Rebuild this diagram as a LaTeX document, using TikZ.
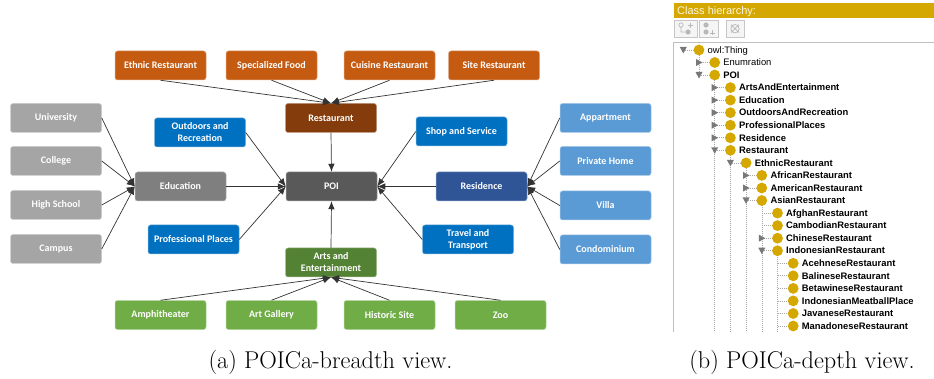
\documentclass[tikz,border=0pt]{standalone}
\usepackage{fontspec}
\newfontfamily\boxfont{Carlito}
\newfontfamily\arialfont{Liberation Sans}
\usetikzlibrary{arrows.meta}
\definecolor{orng}{RGB}{197,90,17}
\definecolor{brwn}{RGB}{132,60,12}
\definecolor{lgray}{RGB}{165,165,165}
\definecolor{mgray}{RGB}{127,127,127}
\definecolor{dgray}{RGB}{89,89,89}
\definecolor{mblue}{RGB}{0,112,192}
\definecolor{dblue}{RGB}{47,85,151}
\definecolor{lblue}{RGB}{91,155,213}
\definecolor{dgreen}{RGB}{84,130,53}
\definecolor{lgreen}{RGB}{112,173,71}
\definecolor{gold}{RGB}{212,168,0}
\definecolor{hdrtext}{RGB}{252,246,225}
\definecolor{trigray}{RGB}{120,120,120}
\tikzset{
  box/.style={rounded corners=2.5pt, minimum width=91pt, minimum height=29pt,
    inner sep=1pt, text=white, fill=#1, draw=#1!55!white, line width=0.5pt,
    font=\boxfont\bfseries\fontsize{10}{12}\selectfont, align=center},
  arr/.style={-{Latex[length=8pt,width=6.5pt]}, draw=black!80, line width=0.7pt},
  treeline/.style={draw=black!35, line width=0.6pt, dash pattern=on 1pt off 1pt},
  treetext/.style={anchor=base west, inner sep=0pt,
    font=\arialfont\fontsize{9.4}{11}\selectfont, text=black},
  btn/.style={draw=black!22, fill=black!4, line width=0.6pt},
  icon/.style={draw=black!28, line width=0.7pt},
  caption/.style={anchor=base, inner sep=0pt, font=\fontsize{24.3}{29}\selectfont},
}
\newcommand\trowbase[4]{%
  \pgfmathsetmacro\cx{699+15.7*#1}%
  \pgfmathsetmacro\px{699+15.7*(#1-1)}%
  \draw[treeline] (\px,#2) -- (\cx-5,#2);
  \fill[gold] (\cx,#2) circle[radius=5.4];
  \node[treetext] (#3) at (\cx+8.5,#2+3.3) {#4};
}
\newcommand\trowR[4]{\trowbase{#1}{#2}{#3}{#4}%
  \fill[trigray] (\px-3,#2-3.5) -- (\px-3,#2+3.5) -- (\px+3.5,#2) -- cycle;}
\newcommand\trowD[4]{\trowbase{#1}{#2}{#3}{#4}%
  \fill[trigray] (\px-3.5,#2-3) -- (\px+3.5,#2-3) -- (\px,#2+3.5) -- cycle;}
\newcommand\trowN[4]{\trowbase{#1}{#2}{#3}{#4}}
\begin{document}
\begin{tikzpicture}[x=1pt,y=-1pt]
\useasboundingbox (0,0) rectangle (934,379);
\fill[white] (0,0) rectangle (934,379);

% ---------- left diagram ----------
\node[box=orng] (ethnic) at (160.5,65.5) {Ethnic Restaurant};
\node[box=orng] (spec) at (271.5,65.5) {Specialized Food};
\node[box=orng] (cuisine) at (389.5,65.5) {Cuisine Restaurant};
\node[box=orng] (site) at (494,65.5) {Site Restaurant};
\node[box=brwn] (rest) at (331,118) {Restaurant};

\node[box=lgray] (univ) at (56,118) {University};
\node[box=lgray] (college) at (56,161) {College};
\node[box=lgray] (high) at (56,205) {High School};
\node[box=lgray] (campus) at (56,249) {Campus};

\node[box=mblue] (outdoor) at (200,132.5) {Outdoors and\\Recreation};
\node[box=mgray] (edu) at (180.5,186.5) {Education};
\node[box=dgray] (poi) at (331.5,186.5) {POI};
\node[box=mblue] (prof) at (193.5,239.5) {Professional Places};

\node[box=mblue] (shop) at (461.5,131.5) {Shop and Service};
\node[box=dblue] (resid) at (481.5,186.5) {Residence};
\node[box=mblue] (travel) at (468,239.5) {Travel and\\Transport};

\node[box=lblue] (appart) at (605.5,118) {Appartment};
\node[box=lblue] (private) at (605.5,161) {Private Home};
\node[box=lblue] (villa) at (605.5,205.5) {Villa};
\node[box=lblue] (condo) at (605.5,249.5) {Condominium};

\node[box=dgreen] (arts) at (331,262.5) {Arts and\\Entertainment};
\node[box=lgreen] (amph) at (160.5,315) {Amphitheater};
\node[box=lgreen] (gallery) at (271.5,315) {Art Gallery};
\node[box=lgreen] (historic) at (389.5,315) {Historic Site};
\node[box=lgreen] (zoo) at (500.5,315) {Zoo};

\foreach \c in {ethnic,spec,cuisine,site} \draw[arr] (\c.south) -- (rest.north);
\foreach \c in {univ,college,high,campus} \draw[arr] (\c.east) -- (edu.west);
\foreach \c in {appart,private,villa,condo} \draw[arr] (\c.west) -- (resid.east);
\foreach \c in {amph,gallery,historic,zoo} \draw[arr] (\c.north) -- (arts.south);
\foreach \c in {outdoor,edu,prof} \draw[arr] (\c.east) -- (poi.west);
\foreach \c in {shop,resid,travel} \draw[arr] (\c.west) -- (poi.east);
\draw[arr] (rest.south) -- (poi.north);
\draw[arr] (arts.north) -- (poi.south);

% ---------- right panel ----------
\fill[gold] (674,3) rectangle (934,18);
\node[anchor=base west, inner sep=0pt, text=hdrtext,
  font=\arialfont\fontsize{11}{13}\selectfont] (hdr) at (677,14.5) {Class hierarchy:};
\draw[btn] (674.5,20.5) rectangle (697,37);
\draw[btn] (699,20.5) rectangle (718,37);
\draw[btn] (726,20.5) rectangle (744,37);
% icons
\draw[icon] (681,25) circle[radius=2.2] (681,27.2) -- (681,32) -- (685,32);
\fill[black!28] (688,32) circle[radius=2.6];
\draw[icon] (690,23) -- (690,28) (687.5,25.5) -- (692.5,25.5);
\fill[black!28] (706,25) circle[radius=2.6] (706,32) circle[radius=2.6];
\draw[icon] (710,33) -- (715,33) (712.5,30.5) -- (712.5,35.5);
\draw[icon] (735,28.7) circle[radius=4.2] (731,24.7) -- (739,32.7) (739,24.7) -- (731,32.7);
\draw[black!25, line width=0.6pt] (673,42) -- (934,42);
\draw[black!25, line width=0.6pt] (673,42) -- (673,332);

% vertical guide lines
\draw[treeline] (699,55) -- (699,75);
\draw[treeline] (714.7,80) -- (714.7,332);
\draw[treeline] (730.4,155) -- (730.4,332);
\draw[treeline] (746.1,168) -- (746.1,332);
\draw[treeline] (761.8,205) -- (761.8,332);
\draw[treeline] (777.5,255) -- (777.5,332);

\trowD{0}{50}{tthing}{owl:Thing}
\trowR{1}{62.5}{tenum}{Enumration}
\trowD{1}{75}{tpoi}{\bfseries POI}
\trowR{2}{87.6}{tarts}{\bfseries ArtsAndEntertainment}
\trowR{2}{100.1}{tedu}{\bfseries Education}
\trowR{2}{112.7}{tout}{\bfseries OutdoorsAndRecreation}
\trowR{2}{125.2}{tprof}{\bfseries ProfessionalPlaces}
\trowR{2}{137.8}{tres}{\bfseries Residence}
\trowD{2}{150.3}{trest}{\bfseries Restaurant}
\trowD{3}{162.9}{tethnic}{\bfseries EthnicRestaurant}
\trowR{4}{175.4}{tafr}{\bfseries AfricanRestaurant}
\trowR{4}{188}{tame}{\bfseries AmericanRestaurant}
\trowD{4}{200.5}{tasian}{\bfseries AsianRestaurant}
\trowN{5}{213.1}{tafg}{\bfseries AfghanRestaurant}
\trowN{5}{225.6}{tcam}{\bfseries CambodianRestaurant}
\trowR{5}{238.2}{tchi}{\bfseries ChineseRestaurant}
\trowD{5}{250.7}{tind}{\bfseries IndonesianRestaurant}
\trowN{6}{263.3}{tace}{\bfseries AcehneseRestaurant}
\trowN{6}{275.8}{tbal}{\bfseries BalineseRestaurant}
\trowN{6}{288.4}{tbet}{\bfseries BetawineseRestaurant}
\trowN{6}{300.9}{tmeat}{\bfseries IndonesianMeatballPlace}
\trowN{6}{313.5}{tjav}{\bfseries JavaneseRestaurant}
\trowN{6}{326}{tman}{\bfseries ManadoneseRestaurant}

% ---------- captions ----------
\node[caption] (capa) at (330.5,368) {(a) POICa-breadth view.};
\node[caption] (capb) at (802,368) {(b) POICa-depth view.};
\end{tikzpicture}
\end{document}
